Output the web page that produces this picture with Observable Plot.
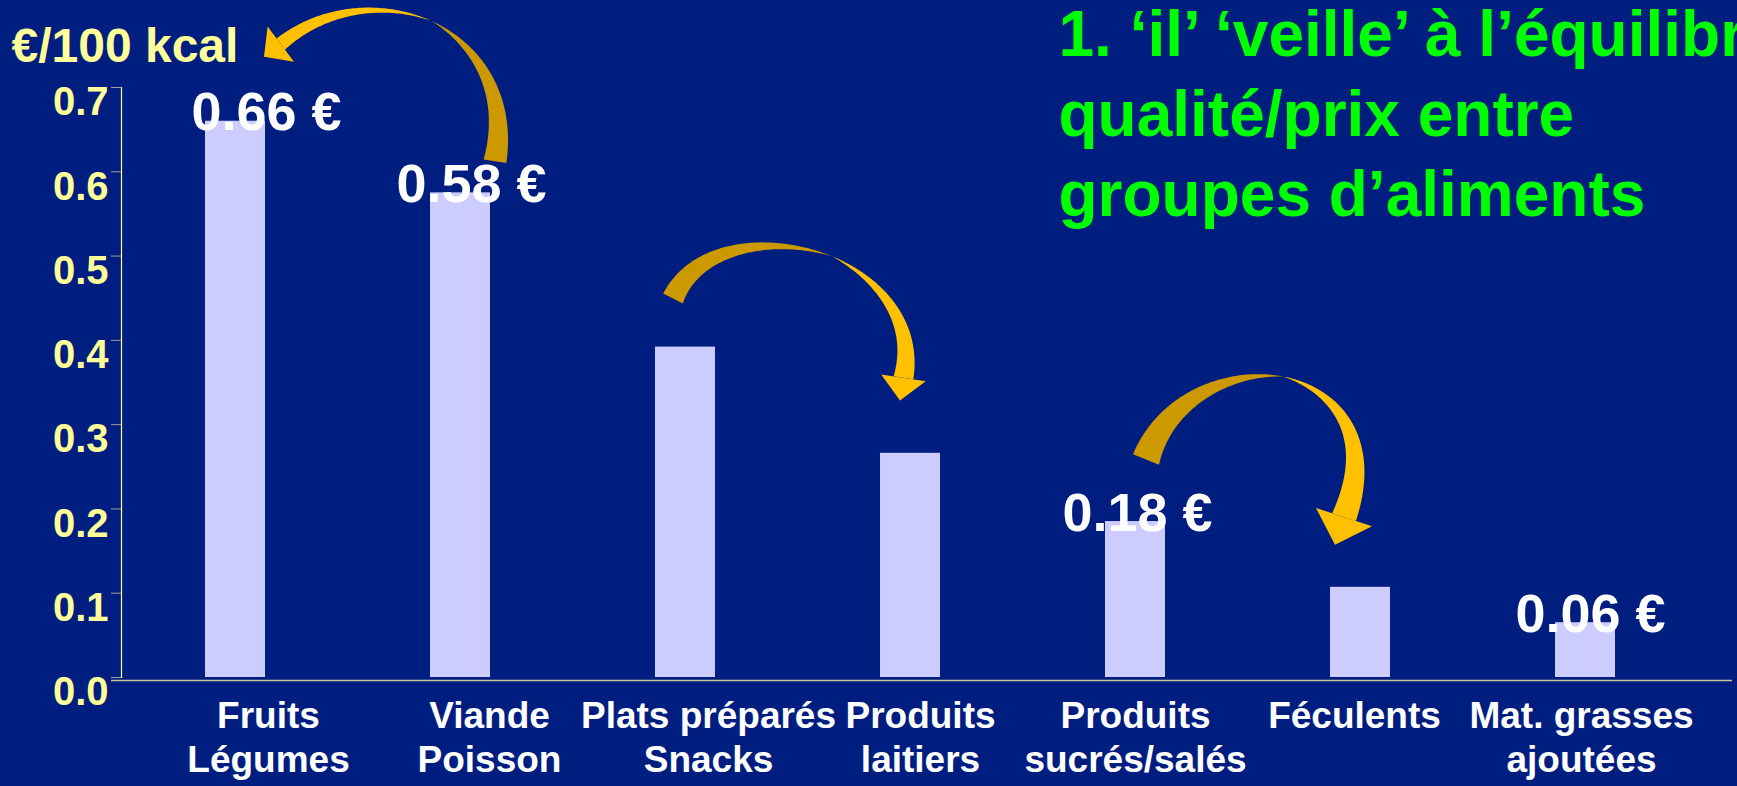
<!DOCTYPE html>
<html><head><meta charset="utf-8">
<script src="https://cdn.jsdelivr.net/npm/d3@7"></script>
<script src="https://cdn.jsdelivr.net/npm/@observablehq/plot@0.6"></script>
<style>
html,body{margin:0;padding:0;background:#001E80;width:1737px;height:786px;overflow:hidden;}
#chart svg{display:block;}
</style></head><body><div id="chart"></div>
<script>
// ---- data ----
const categories = ["Fruits\nLégumes", "Viande\nPoisson", "Plats préparés\nSnacks", "Produits\nlaitiers", "Produits\nsucrés/salés", "Féculents", "Mat. grasses\najoutées"];
const prices = [0.66, 0.575, 0.392, 0.266, 0.185, 0.107, 0.065];
const priceLabels = ["0.66 €", "0.58 €", "", "", "0.18 €", "", "0.06 €"];
const yTicks = [0, 0.1, 0.2, 0.3, 0.4, 0.5, 0.6, 0.7];
const yLabel = "€/100 kcal";
const titleLines = ["1. ‘il’ ‘veille’ à l’équilibre", "qualité/prix entre", "groupes d’aliments"];
// annotation arrows (from category/value to category/value)
const arrowFrom = ["Viande\nPoisson", "Plats préparés\nSnacks", "Produits\nsucrés/salés"];
const arrowFromValue = [0.612, 0.449, 0.258];
const arrowTo = ["Fruits\nLégumes", "Produits\nlaitiers", "Féculents"];
const arrowToValue = [0.736, 0.328, 0.157];

// ---- styles (pixel nudges, sizes, colours) ----
const FONT = "Liberation Sans, Arial, Helvetica, sans-serif";
const BG = "#001E80";
const catLabelNudge = [33, 29, 23, 10, 0, -6, -4];
const valueLabelNudge = [31, 11, 0, 0, 2, 0, 5];
const arrowStyle = [
  {fromDx: 35, toDx: 29, t0: [0.15, -0.99], t1: [-0.8, 0.6], L0: 130, L1: 110, w0: 23, w1: 14, head: 44, headLen: 21, twist: 0.5},
  {fromDx: -12, toDx: -10, t0: [0.45, -0.89], t1: [-0.15, 0.99], L0: 100, L1: 120, w0: 22, w1: 20, head: 45, headLen: 23, twist: 0.55},
  {fromDx: 11, toDx: -25, t0: [0.38, -0.93], t1: [-0.31, 0.95], L0: 120, L1: 160, w0: 28, w1: 25, head: 59, headLen: 29, twist: 0.5}
];

const table = categories.map((c, i) => ({cat: c, value: prices[i], label: priceLabels[i], i}));

const marks = [
  Plot.barY(table, {x: "cat", y: "value", fill: "#CCCCFF"}),
  Plot.frame({anchor: "left", stroke: "#FFFF99", strokeWidth: 1.2}),
  Plot.ruleY([0], {stroke: "#C8C8A0", strokeWidth: 1.5, dy: 3, insetLeft: -10}),
  Plot.axisY({ticks: yTicks, tickSize: 10, tickFormat: () => "", stroke: "#A0A0A0", label: null}),
  Plot.axisY({ticks: yTicks, tickSize: 0, tickPadding: 13, dy: 15, tickFormat: d => d.toFixed(1),
    fill: "#FFFF99", fontSize: 40, fontWeight: "bold", fontFamily: FONT, label: null}),
  Plot.text([yLabel], {frameAnchor: "top-left", lineAnchor: "middle", textAnchor: "start", dx: -110, dy: -41,
    fill: "#FFFF99", fontSize: 48, fontWeight: "bold", fontFamily: FONT})
];
table.forEach(d => {
  const lines = d.cat.split("\n");
  lines.forEach((ln, j) => {
    marks.push(Plot.text([d], {x: "cat", y: () => 0, text: () => ln, dx: catLabelNudge[d.i], dy: 39 + 44 * j,
      lineAnchor: "middle", fill: "white", fontSize: 37, fontWeight: "bold", fontFamily: FONT}));
  });
  if (d.label) {
    marks.push(Plot.text([d], {x: "cat", y: "value", text: "label", dx: valueLabelNudge[d.i], dy: -8,
      lineAnchor: "middle", fill: "white", fontSize: 54, fontWeight: "bold", fontFamily: FONT}));
  }
});
titleLines.forEach((t, i) => {
  marks.push(Plot.text([t], {frameAnchor: "top-left", lineAnchor: "middle", textAnchor: "start", dx: 937, dy: -52 + 80 * i,
    fill: "#00FF00", fontSize: 64, fontWeight: "bold", fontFamily: FONT}));
});

const plot = Plot.plot({
  width: 1737, height: 786,
  marginLeft: 121, marginRight: 5, marginTop: 87, marginBottom: 109,
  style: {background: BG, color: "white", fontFamily: FONT, overflow: "visible"},
  x: {domain: categories, axis: null, paddingInner: 0.734, paddingOuter: 0.442, align: 0.416},
  y: {domain: [0, 0.7]},
  marks
});
document.getElementById("chart").appendChild(plot);

// ---- curved annotation arrows, positioned through Plot's scales ----
(function drawArrows() {
  const sx = plot.scale("x"), sy = plot.scale("y");
  const bw = typeof sx.bandwidth === "function" ? sx.bandwidth() : sx.bandwidth;
  const cx = c => sx.apply(c) + bw / 2;
  const g = d3.select(plot).insert("g", 'g[aria-label="text"]').attr("aria-label", "arrows");
  arrowFrom.forEach((from, i) => {
    const s = arrowStyle[i];
    const P0 = [cx(from) + s.fromDx, sy.apply(arrowFromValue[i])];
    const P3 = [cx(arrowTo[i]) + s.toDx, sy.apply(arrowToValue[i])];
    const B = [P3[0] - s.t1[0] * s.headLen, P3[1] - s.t1[1] * s.headLen];
    const P1 = [P0[0] + s.t0[0] * s.L0, P0[1] + s.t0[1] * s.L0];
    const P2 = [B[0] - s.t1[0] * s.L1, B[1] - s.t1[1] * s.L1];
    const bez = t => {
      const u = 1 - t;
      return [u*u*u*P0[0] + 3*u*u*t*P1[0] + 3*u*t*t*P2[0] + t*t*t*B[0],
              u*u*u*P0[1] + 3*u*u*t*P1[1] + 3*u*t*t*P2[1] + t*t*t*B[1]];
    };
    const der = t => {
      const u = 1 - t;
      return [3*u*u*(P1[0]-P0[0]) + 6*u*t*(P2[0]-P1[0]) + 3*t*t*(B[0]-P2[0]),
              3*u*u*(P1[1]-P0[1]) + 6*u*t*(P2[1]-P1[1]) + 3*t*t*(B[1]-P2[1])];
    };
    const normal = t => {
      const d = der(t), L = Math.hypot(d[0], d[1]) || 1;
      return [d[1] / L, -d[0] / L];
    };
    const sgn = normal(0.5)[1] > 0 ? -1 : 1;
    const N = 80;
    const wFull = t => s.w0 + (s.w1 - s.w0) * t;
    const w = t => t < s.twist ? s.w0 * (1 - t / s.twist) : s.w1 * (t - s.twist) / (1 - s.twist);
    const piece = (ta, tb) => {
      const outer = [], inner = [];
      for (let k = 0; k <= N; k++) {
        const t = ta + (tb - ta) * k / N;
        const c = bez(t), n = normal(t).map(v => v * sgn);
        const wf = wFull(t) / 2, ww = w(t);
        outer.push([c[0] + n[0] * wf, c[1] + n[1] * wf]);
        inner.push([c[0] + n[0] * (wf - ww), c[1] + n[1] * (wf - ww)]);
      }
      return outer.concat(inner.reverse());
    };
    const line = d3.line();
    g.append("path").attr("d", line(piece(0, s.twist)) + "Z").attr("fill", "#CC9900");
    g.append("path").attr("d", line(piece(s.twist, 1)) + "Z").attr("fill", "#FFC000");
    const nh = [s.t1[1], -s.t1[0]];
    const head = [[B[0] + nh[0] * s.head / 2, B[1] + nh[1] * s.head / 2], P3,
                  [B[0] - nh[0] * s.head / 2, B[1] - nh[1] * s.head / 2]];
    g.append("path").attr("d", line(head) + "Z").attr("fill", "#FFC000");
  });
})();
</script>
</body></html>
